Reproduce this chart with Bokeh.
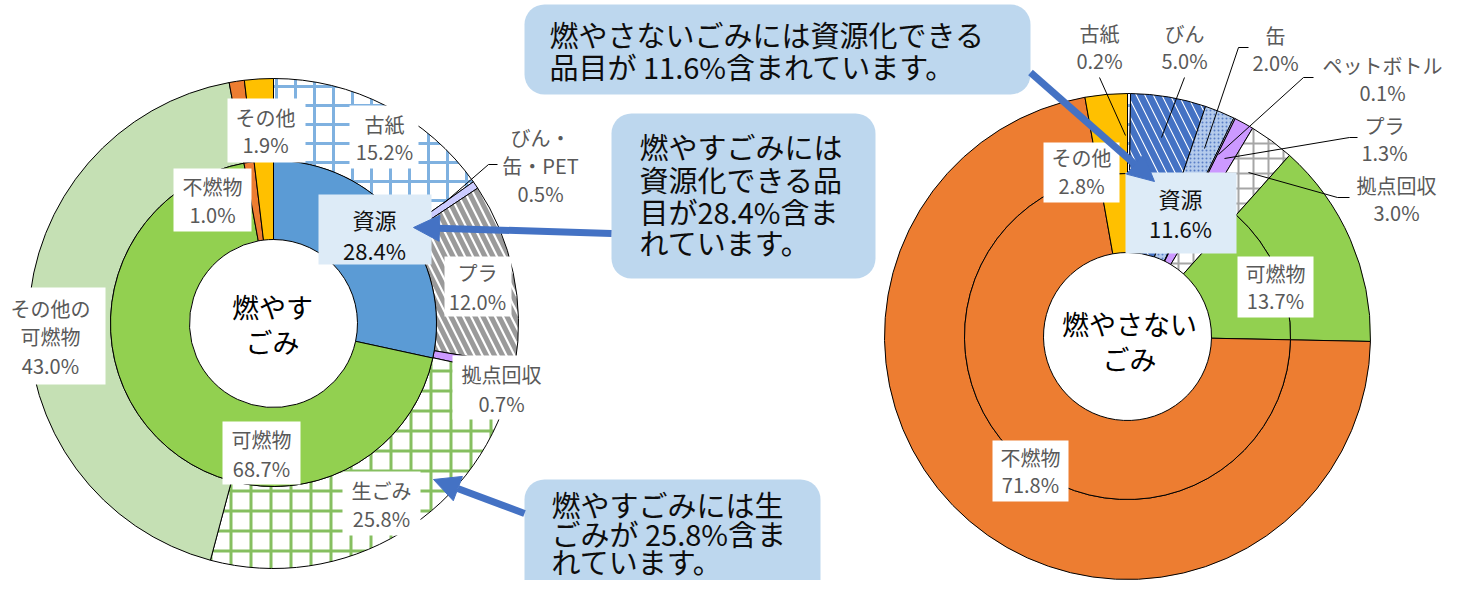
import numpy as np
from bokeh.plotting import figure
from bokeh.models import ColumnDataSource, Range1d, Arrow, NormalHead, BoxAnnotation
from bokeh.core.properties import value
from bokeh.embed import file_html
from bokeh.resources import INLINE

# ---------------- data ----------------
left_title = ["燃やす", "ごみ"]
left_inner_names = ["資源", "可燃物", "不燃物", "その他"]
left_inner_vals = [28.4, 68.7, 1.0, 1.9]
left_outer_names = ["古紙", "びん・缶・PET", "プラ", "拠点回収", "生ごみ", "その他の可燃物", "不燃物", "その他"]
left_outer_vals = [15.2, 0.5, 12.0, 0.7, 25.8, 43.0, 1.0, 1.9]

right_title = ["燃やさない", "ごみ"]
right_inner_names = ["資源", "可燃物", "不燃物", "その他"]
right_inner_vals = [11.6, 13.7, 71.8, 2.8]
right_outer_names = ["古紙", "びん", "缶", "ペットボトル", "プラ", "拠点回収", "可燃物", "不燃物", "その他"]
right_outer_vals = [0.2, 5.0, 2.0, 0.1, 1.3, 3.0, 13.7, 71.8, 2.8]

left_labels_inner = ["資源", "可燃物", "不燃物", "その他"]
left_labels_outer = ["古紙", "びん・缶・PET", "プラ", "拠点回収", "生ごみ", "その他の可燃物"]
right_labels_inner = ["資源", "可燃物", "不燃物", "その他"]
right_labels_outer = ["古紙", "びん", "缶", "ペットボトル", "プラ", "拠点回収"]

# ---------------- styles / layout ----------------
W, H = 1445, 580
def Y(y):
    return H - y

FONT = value("Noto Sans CJK JP")

STY = {
    "資源": dict(fill="#5B9BD5"),
    "可燃物": dict(fill="#92D050"),
    "不燃物": dict(fill="#ED7D31"),
    "その他": dict(fill="#FFC000"),
    "古紙": dict(fill="white", hatch="+", hcolor="#7FB1E0", hw=3.0, hs=19),
    "びん・缶・PET": dict(fill="#CCCCFF"),
    "プラL": dict(fill="white", hatch="\\", hcolor="#9A9A9A", hw=5.0, hs=16),
    "拠点回収L": dict(fill="#CC99FF"),
    "生ごみ": dict(fill="white", hatch="+", hcolor="#86BF60", hw=3.0, hs=20),
    "その他の可燃物": dict(fill="#C5E0B4"),
    "びん": dict(fill="white", hatch="\\", hcolor="#4472C4", hw=6.5, hs=17),
    "缶": dict(fill="#B4CBEC", hatch=".", hcolor="#5A7FC6", hw=1.0, hs=4),
    "ペットボトル": dict(fill="#CCCCFF"),
    "プラR": dict(fill="#CC99FF"),
    "拠点回収R": dict(fill="white", hatch="+", hcolor="#A6A6A6", hw=2.0, hs=15),
}

def style_for(name, side):
    if name in ("プラ", "拠点回収"):
        return STY[name + side]
    return STY[name]

LEFT_C = (273, 323)
RIGHT_C = (1127, 336)
R_HOLE, R_MID = 84, 163
R_OUT_L, R_OUT_R = 245, 243

DISPLAY = {"その他の可燃物": "その他の\n可燃物", "びん・缶・PET": "びん・\n缶・PET"}

# label layout: (center x, [line y...], box (x0, x1, y0, y1) or None)
LAY_L = {
    "その他": (265, [117, 144], (227, 305, 98, 162)),
    "古紙": (384, [124, 151], (349, 418, 105, 168)),
    "不燃物": (212, [186, 214], (173, 251, 168, 231)),
    "資源": (374, [218, 249], (318, 431, 194, 264)),
    "プラ": (477, [272, 301], (444, 511, 256, 316)),
    "拠点回収": (501, [374, 403], (452, 547, 355, 419)),
    "生ごみ": (381, [490, 518], (342, 420, 471, 535)),
    "可燃物": (261, [439, 468], (222, 300, 421, 484)),
    "その他の可燃物": (50, [308, 336, 365], (5, 105, 287, 384)),
    "びん・缶・PET": (540, [137, 165, 193], None),
}
LAY_R = {
    "古紙": (1099, [33, 60], None),
    "びん": (1184, [33, 60], None),
    "缶": (1275, [35, 62], None),
    "ペットボトル": (1382, [65, 92], None),
    "プラ": (1384, [125, 152], None),
    "拠点回収": (1396, [185, 212], None),
    "その他": (1081, [157, 185], (1043, 1119, 142, 202)),
    "資源": (1180, [197, 227], (1125, 1236, 172, 253)),
    "可燃物": (1275, [273, 300], (1237, 1313, 256, 317)),
    "不燃物": (1030, [457, 484], (992, 1068, 440, 501)),
}
LEADERS = [
    [(497, 164), (488, 164), (443, 203)],
    [(1099, 77), (1125, 135)],
    [(1184, 77), (1161, 137)],
    [(1248, 47), (1238, 47), (1204, 148)],
    [(1313, 77), (1303, 77), (1218, 154)],
    [(1357, 137), (1349, 137), (1224, 158)],
    [(1349, 197), (1337, 197), (1248, 172)],
]

# ---------------- figure ----------------
p = figure(width=W, height=H, x_range=Range1d(0, W), y_range=Range1d(0, H),
           output_backend="svg", toolbar_location=None, min_border=0,
           x_axis_location=None, y_axis_location=None,
           outline_line_color=None, background_fill_color="white", border_fill_color="white")
p.grid.visible = False


def draw_ring(names, vals, center, r0, r1, side):
    fr = np.array(vals, dtype=float) / float(sum(vals))
    cum = np.concatenate([[0.0], np.cumsum(fr)])
    start = np.pi / 2 - cum[1:] * 2 * np.pi
    end = np.pi / 2 - cum[:-1] * 2 * np.pi
    st = [style_for(n, side) for n in names]
    src = ColumnDataSource(dict(
        start=start, end=end,
        fill=[s["fill"] for s in st],
        hatch=[s.get("hatch", " ") for s in st],
        hcolor=[s.get("hcolor", "black") for s in st],
        hw=[s.get("hw", 1.0) for s in st],
        hs=[s.get("hs", 12) for s in st],
    ))
    p.annular_wedge(x=center[0], y=Y(center[1]), inner_radius=r0, outer_radius=r1,
                    start_angle="start", end_angle="end", source=src,
                    fill_color="fill", hatch_pattern="hatch", hatch_color="hcolor",
                    hatch_weight="hw", hatch_scale="hs",
                    line_color="black", line_width=1)


# left donut
draw_ring(left_outer_names, left_outer_vals, LEFT_C, R_MID, R_OUT_L, "L")
draw_ring(left_inner_names, left_inner_vals, LEFT_C, R_HOLE, R_MID, "L")
# right donut (資源 part of the inner ring shows its sub-categories)
draw_ring(right_outer_names, right_outer_vals, RIGHT_C, R_MID, R_OUT_R, "R")
draw_ring(right_outer_names, right_outer_vals, RIGHT_C, R_HOLE, R_MID, "R")

# leader lines
p.multi_line(xs=[[pt[0] for pt in l] for l in LEADERS], ys=[[Y(pt[1]) for pt in l] for l in LEADERS],
             line_color="black", line_width=1)

# data labels
box_w = dict(l=[], r=[], t=[], b=[], c=[])
txt_gray = dict(x=[], y=[], t=[])
txt_key = dict(x=[], y=[], t=[])


def add_labels(names_vals, lay):
    for name, v in names_vals:
        cx, ys, box = lay[name]
        lines = DISPLAY.get(name, name).split("\n") + ["%.1f%%" % v]
        if box is not None:
            box_w["l"].append(box[0]); box_w["r"].append(box[1])
            box_w["t"].append(Y(box[2])); box_w["b"].append(Y(box[3]))
            box_w["c"].append("#DDEBF7" if name == "資源" else "white")
        tgt = txt_key if name == "資源" else txt_gray
        for ln, yy in zip(lines, ys):
            tgt["x"].append(cx); tgt["y"].append(Y(yy)); tgt["t"].append(ln)


lin = dict(zip(left_inner_names, left_inner_vals))
lout = dict(zip(left_outer_names, left_outer_vals))
rin = dict(zip(right_inner_names, right_inner_vals))
rout = dict(zip(right_outer_names, right_outer_vals))
add_labels([(n, lin[n]) for n in left_labels_inner] + [(n, lout[n]) for n in left_labels_outer], LAY_L)
add_labels([(n, rin[n]) for n in right_labels_inner] + [(n, rout[n]) for n in right_labels_outer], LAY_R)

p.quad(left=box_w["l"], right=box_w["r"], top=box_w["t"], bottom=box_w["b"],
       fill_color=box_w["c"], line_color=None)
p.text(x=txt_gray["x"], y=txt_gray["y"], text=txt_gray["t"], text_font=FONT,
       text_font_size="20px", text_color="#595959", text_align="center", text_baseline="middle")
p.text(x=txt_key["x"], y=txt_key["y"], text=txt_key["t"], text_font=FONT,
       text_font_size="22px", text_color="#111111", text_align="center", text_baseline="middle")

# center titles
p.text(x=[272, 272], y=[Y(306), Y(341)], text=left_title, text_font=FONT, text_font_size="27px",
       text_color="black", text_align="center", text_baseline="middle")
p.text(x=[1129, 1129], y=[Y(323), Y(358)], text=right_title, text_font=FONT, text_font_size="27px",
       text_color="black", text_align="center", text_baseline="middle")

# callouts
callouts = [
    ((524, 1030, 4, 94), 549, [33, 65],
     ["燃やさないごみには資源化できる", "品目が %.1f%%含まれています。" % right_inner_vals[0]]),
    ((611, 875, 113, 278), 639, [145, 178, 210, 241],
     ["燃やすごみには", "資源化できる品", "目が%.1f%%含ま" % left_inner_vals[0], "れています。"]),
    ((524, 820, 479, 615), 551, [503, 532, 560],
     ["燃やすごみには生", "ごみが %.1f%%含ま" % left_outer_vals[4], "れています。"]),
]
cx_, cy_, ct_ = [], [], []
for (x0, x1, y0, y1), tx, tys, lines in callouts:
    p.add_layout(BoxAnnotation(left=x0, right=x1, top=Y(y0), bottom=Y(y1), fill_color="#BDD7EE",
                               fill_alpha=1.0, line_color=None, border_radius=20, level="underlay"))
    for ln, yy in zip(lines, tys):
        cx_.append(tx); cy_.append(Y(yy)); ct_.append(ln)
p.text(x=cx_, y=cy_, text=ct_, text_font=FONT, text_font_size="29px", text_color="#0D0D0D",
       text_align="left", text_baseline="middle")

# arrows
for (x0, y0, x1, y1) in [(1030, 72, 1154, 181), (611, 233, 413, 227), (524, 513, 433, 479)]:
    p.add_layout(Arrow(end=NormalHead(size=26, fill_color="#4472C4", line_color="#4472C4"),
                       x_start=x0, y_start=Y(y0), x_end=x1, y_end=Y(y1),
                       line_color="#4472C4", line_width=7))

open("out.html", "w").write(file_html(p, INLINE))
